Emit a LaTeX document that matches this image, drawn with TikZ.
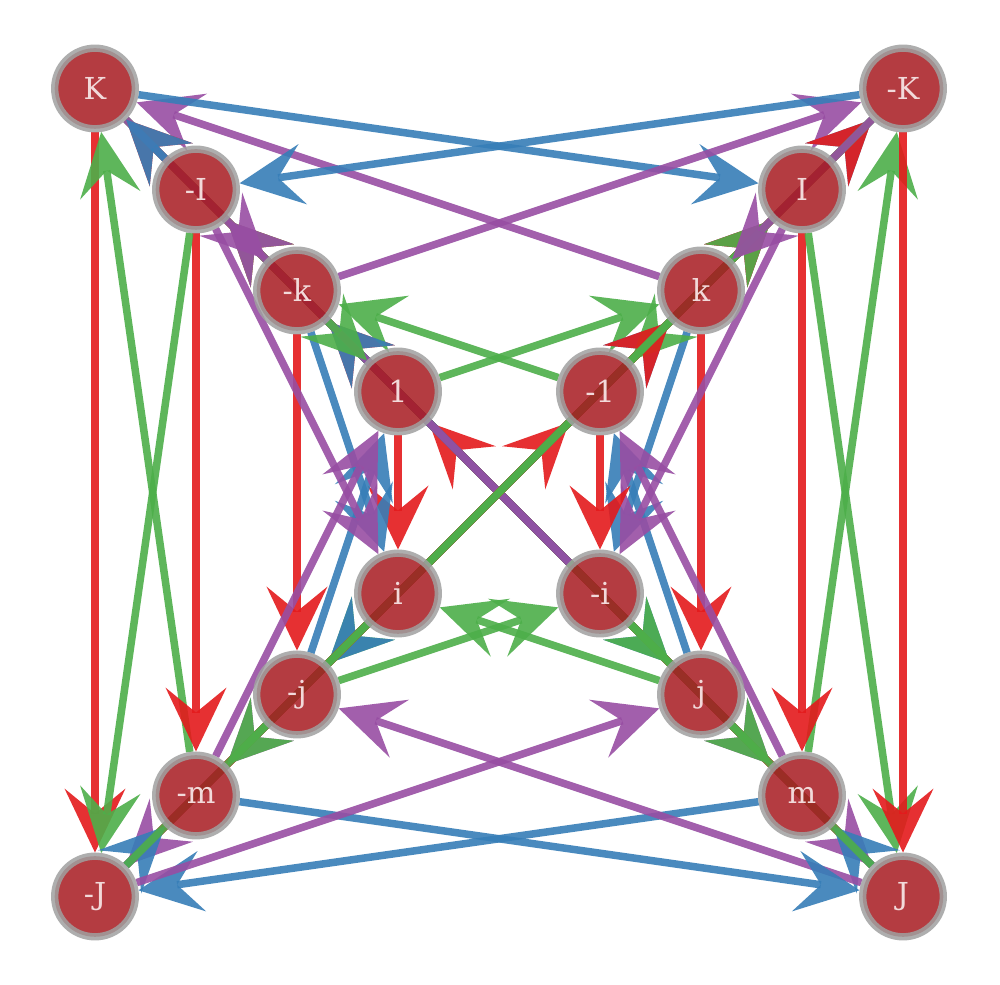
\documentclass[tikz,border=0pt]{standalone}
\usepackage{fontspec}
\setmainfont{DejaVu Serif}
\usetikzlibrary{arrows.meta,backgrounds}
\definecolor{cR}{RGB}{228,26,28}
\definecolor{cB}{RGB}{55,126,184}
\definecolor{cG}{RGB}{77,175,74}
\definecolor{cP}{RGB}{152,78,163}
\definecolor{nodefill}{RGB}{167,26,32}
\definecolor{ringgray}{RGB}{160,160,160}
\definecolor{nodetext}{RGB}{242,218,218}
\begin{document}
\begin{tikzpicture}[x=1.01cm,y=1.01cm,
  vtx/.style={circle, minimum size=0.806cm, inner sep=0pt, line width=0.073cm,
    draw=ringgray, draw opacity=0.85, fill=nodefill, fill opacity=0.85,
    text opacity=1, text=nodetext, font=\fontsize{8.6pt}{10pt}\selectfont},
  edge/.style={line width=0.75mm, opacity=0.9,
    -{Stealth[length=6.4mm,width=6.1mm,inset=2.5mm,line width=0pt]}},
  er/.style={edge, draw=cR},
  eb/.style={edge, draw=cB},
  eg/.style={edge, draw=cG},
  ep/.style={edge, draw=cP}]
\useasboundingbox (-4.9406,-4.876) rectangle (4.9604,4.876);
% vertices
\node[vtx] (p1) at (-1,1) {1};
\node[vtx] (n1) at (1,1) {-1};
\node[vtx] (pi) at (-1,-1) {i};
\node[vtx] (ni) at (1,-1) {-i};
\node[vtx] (pj) at (2,-2) {j};
\node[vtx] (nj) at (-2,-2) {-j};
\node[vtx] (pk) at (2,2) {k};
\node[vtx] (nk) at (-2,2) {-k};
\node[vtx] (pm) at (3,-3) {m};
\node[vtx] (nm) at (-3,-3) {-m};
\node[vtx] (PI) at (3,3) {I};
\node[vtx] (NI) at (-3,3) {-I};
\node[vtx] (PJ) at (4,-4) {J};
\node[vtx] (NJ) at (-4,-4) {-J};
\node[vtx] (PK) at (-4,4) {K};
\node[vtx] (NK) at (4,4) {-K};
\begin{scope}[on background layer]
\fill[white] (-4.9406,-4.876) rectangle (4.9604,4.876);
% 1
\draw[er] (p1) -- (pi); \draw[eb] (p1) -- (pj); \draw[eg] (p1) -- (pk); \draw[ep] (p1) -- (pm);
% i
\draw[er] (pi) -- (n1); \draw[eb] (pi) -- (pk); \draw[eg] (pi) -- (nj); \draw[ep] (pi) -- (PI);
% j
\draw[er] (pj) -- (nk); \draw[eb] (pj) -- (n1); \draw[eg] (pj) -- (pi); \draw[ep] (pj) -- (PJ);
% k
\draw[er] (pk) -- (pj); \draw[eb] (pk) -- (ni); \draw[eg] (pk) -- (n1); \draw[ep] (pk) -- (PK);
% m
\draw[er] (pm) -- (NI); \draw[eb] (pm) -- (NJ); \draw[eg] (pm) -- (NK); \draw[ep] (pm) -- (n1);
% I
\draw[er] (PI) -- (pm); \draw[eb] (PI) -- (NK); \draw[eg] (PI) -- (PJ); \draw[ep] (PI) -- (ni);
% J
\draw[er] (PJ) -- (PK); \draw[eb] (PJ) -- (pm); \draw[eg] (PJ) -- (NI); \draw[ep] (PJ) -- (nj);
% K
\draw[er] (PK) -- (NJ); \draw[eb] (PK) -- (PI); \draw[eg] (PK) -- (pm); \draw[ep] (PK) -- (nk);
% -1
\draw[er] (n1) -- (ni); \draw[eb] (n1) -- (nj); \draw[eg] (n1) -- (nk); \draw[ep] (n1) -- (nm);
% -i
\draw[er] (ni) -- (p1); \draw[eb] (ni) -- (nk); \draw[eg] (ni) -- (pj); \draw[ep] (ni) -- (NI);
% -j
\draw[er] (nj) -- (pk); \draw[eb] (nj) -- (p1); \draw[eg] (nj) -- (ni); \draw[ep] (nj) -- (NJ);
% -k
\draw[er] (nk) -- (nj); \draw[eb] (nk) -- (pi); \draw[eg] (nk) -- (p1); \draw[ep] (nk) -- (NK);
% -m
\draw[er] (nm) -- (PI); \draw[eb] (nm) -- (PJ); \draw[eg] (nm) -- (PK); \draw[ep] (nm) -- (p1);
% -I
\draw[er] (NI) -- (nm); \draw[eb] (NI) -- (PK); \draw[eg] (NI) -- (NJ); \draw[ep] (NI) -- (pi);
% -J
\draw[er] (NJ) -- (NK); \draw[eb] (NJ) -- (nm); \draw[eg] (NJ) -- (PI); \draw[ep] (NJ) -- (pj);
% -K
\draw[er] (NK) -- (PJ); \draw[eb] (NK) -- (NI); \draw[eg] (NK) -- (nm); \draw[ep] (NK) -- (pk);
\end{scope}
\end{tikzpicture}
\end{document}
